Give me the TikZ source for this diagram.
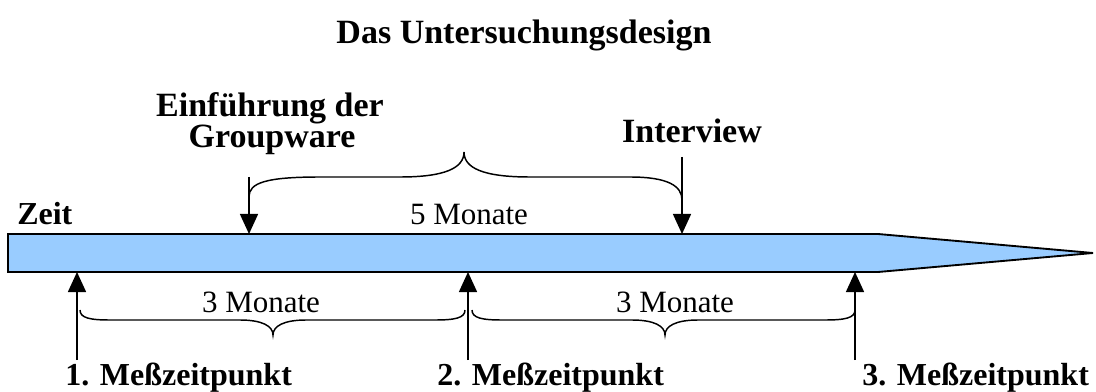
\documentclass[tikz,border=0pt]{standalone}
\usepackage{fontspec}
\setmainfont{Liberation Serif}
\usetikzlibrary{arrows.meta}
\definecolor{barblue}{HTML}{99CCFF}
\begin{document}
\begin{tikzpicture}[x=0.75pt,y=-0.75pt,
  lbl/.style={font=\fontsize{25.5pt}{30pt}\selectfont\bfseries, inner sep=0pt, anchor=base},
  lblw/.style={font=\fontsize{24pt}{28pt}\selectfont\bfseries, inner sep=0pt, anchor=base west},
  mon/.style={font=\fontsize{23.25pt}{28pt}\selectfont, inner sep=0pt, anchor=base},
  arr/.style={line width=1.1pt, -{Triangle[width=13.5pt,length=15pt]}},
  bracepath/.style={line width=1.1pt},
  barshape/.style={fill=barblue, draw=black, line width=1.4pt, line join=miter}]
\path[use as bounding box] (0,0) rectangle (1096,392);

% title
\node[lbl] (title) at (524,44) {Das Untersuchungsdesign};

% time bar
\draw[barshape] (8,234) -- (878,234) -- (1093,253) -- (878,272) -- (8,272) -- cycle;
\coordinate (b1) at (249,234);
\coordinate (b2) at (682,234);
\coordinate (m1) at (77,272);
\coordinate (m2) at (468,272);
\coordinate (m3) at (855,272);

% labels
\node[lbl] (einf1) at (270,117) {Einführung der};
\node[lbl] (einf2) at (272,148) {Groupware};
\node[lbl] (interview) at (692,143) {Interview};
\node[lblw] (zeit) at (17,224) {Zeit};
\node[mon] (fuenf) at (469,224) {5 Monate};
\node[mon] (dreiA) at (261,312) {3 Monate};
\node[mon] (dreiB) at (675,312) {3 Monate};
\node[lblw] (mz1) at (65,385) {1. Meßzeitpunkt};
\node[lblw] (mz2) at (437,385) {2. Meßzeitpunkt};
\node[lblw] (mz3) at (862,385) {3. Meßzeitpunkt};

% arrows down
\coordinate (a1) at (249,177);
\coordinate (a2) at (682,157);
\draw[arr] (a1) -- (b1);
\draw[arr] (a2) -- (b2);

% arrows up
\coordinate (c1) at (77,360);
\coordinate (c2) at (468,360);
\coordinate (c3) at (855,360);
\draw[arr] (c1) -- (m1);
\draw[arr] (c2) -- (m2);
\draw[arr] (c3) -- (m3);

% upper brace
\draw[bracepath] (249,197) .. controls (249,183) and (265,177) .. (320,177)
  -- (400,177) .. controls (445,177) and (464,168) .. (464,152)
  .. controls (464,168) and (483,177) .. (530,177)
  -- (630,177) .. controls (668,177) and (682,186) .. (682,200);

% lower braces
\draw[bracepath] (80,310) .. controls (80,318) and (90,320) .. (110,320)
  -- (240,320) .. controls (262,320) and (273,326) .. (273,335)
  .. controls (273,326) and (284,320) .. (306,320)
  -- (435,320) .. controls (455,320) and (465,318) .. (465,310);
\draw[bracepath] (472,310) .. controls (472,318) and (482,320) .. (502,320)
  -- (632,320) .. controls (654,320) and (665,326) .. (665,335)
  .. controls (665,326) and (676,320) .. (698,320)
  -- (825,320) .. controls (845,320) and (855,318) .. (855,310);
\end{tikzpicture}
\end{document}
